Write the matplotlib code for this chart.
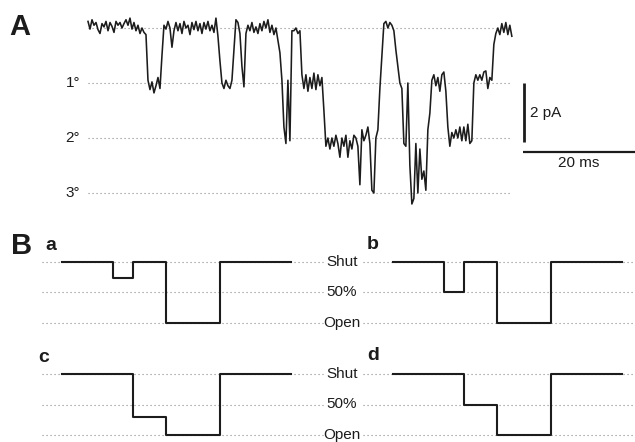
import numpy as np
import matplotlib
matplotlib.use("Agg")
import matplotlib.pyplot as plt

plt.rcParams['font.family'] = ['Liberation Sans', 'DejaVu Sans']

# ---------------- DATA ----------------
# Panel A: single-channel current trace, in units of conductance level (0 = shut)
sample_ms = 0.357
trace_levels = (
    [-0.12, 0.02, -0.15, -0.05, -0.10, 0.03, 0.10, -0.08, -0.02, -0.12,
     0.05, -0.10, -0.03, 0.08, -0.12, -0.05, -0.10, 0.00, -0.08, -0.15,
     -0.05, -0.18, 0.02, -0.10, 0.05, -0.05, 0.10, 0.00, 0.08, 0.12]
    + [0.95, 1.12, 0.98, 1.18, 1.05, 0.90, 1.10, 0.50, -0.05, 0.02, -0.12, 0.00, 0.35, 0.05]
    + [-0.10, 0.05, -0.08, 0.10, -0.12, 0.00, -0.05, 0.12, -0.10, 0.03,
       -0.12, 0.05, -0.08, 0.10, -0.10, 0.02, -0.12, 0.05, -0.05, 0.08,
       -0.18, 0.15]
    + [0.60, 1.00, 1.10, 0.95, 1.05, 1.10, 0.95, 0.40, -0.15, -0.10, 0.10, 0.70, 1.07, 0.10]
    + [-0.05, 0.05, -0.10, 0.08, -0.02, 0.10, -0.08, 0.05, -0.12, 0.00, -0.15, 0.08, -0.05, 0.12, 0.00]
    + [0.22, 0.45, 0.95, 1.80, 2.10, 0.95, 2.05, 0.05, 0.05, 0.00, 0.10, 0.05]
    + [0.85, 1.10, 0.85, 1.15, 0.90, 1.10, 0.82, 1.12, 0.85, 1.05, 0.90, 1.50, 2.15]
    + [2.00, 2.20, 2.00, 2.15, 1.95, 2.10, 2.35, 2.00, 2.15, 1.95, 2.35, 2.05, 2.20, 1.95, 2.00, 2.15]
    + [2.85, 1.85, 2.05, 1.95, 1.80, 2.10, 2.95, 3.00, 2.00, 1.85, 1.10, 0.50]
    + [-0.08, -0.12, 0.00, -0.10, -0.05, 0.05, 0.40, 0.70, 1.00, 1.10]
    + [2.10, 2.15, 1.00, 2.50, 3.20, 3.10, 2.10, 3.00, 2.20, 2.75, 2.60, 2.95, 1.85, 1.55, 0.95]
    + [0.85, 1.05, 0.90, 1.15, 0.85, 0.80, 1.15]
    + [1.80, 2.15, 1.90, 2.00, 1.85, 2.00, 1.80, 2.05, 1.80, 2.05, 1.75, 2.10, 2.05]
    + [1.00, 0.85, 0.95, 0.85, 0.95, 0.80, 0.78, 1.10, 0.90, 0.95]
    + [0.30, 0.10, 0.00, 0.12, -0.08, 0.08, -0.10, 0.12, -0.05, 0.15]
)
level_values = [0, 1, 2, 3]
level_labels = ['', '1°', '2°', '3°']
pA_per_level = 1.85
scale_pA = 2
scale_ms = 20

# Panel B: schematic step records (fraction open: 0 = shut, 1 = open)
b_levels = [0, 0.5, 1]
b_level_labels = ['Shut', '50%', 'Open']
times_ab = [0, 5.1, 7.1, 10.4, 15.8, 22.9]
rec_a = [0, 0.27, 0, 1, 0, 0]
rec_b = [0, 0.5, 0, 1, 0, 0]
times_cd = [0, 7.1, 10.4, 15.8, 22.9]
rec_c = [0, 0.7, 1, 0, 0]
rec_d = [0, 0.5, 1, 0, 0]

# ---------------- FIGURE ----------------
W, H = 635, 442
fig = plt.figure(figsize=(W / 100, H / 100), dpi=100)

def axes_px(x0, y0, x1, y1):
    ax = fig.add_axes([x0 / W, 1 - y1 / H, (x1 - x0) / W, (y1 - y0) / H])
    ax.set_axis_off()
    return ax

ink = '#1c1c1c'
dotc = '#8a8a8a'
dots = (0, (1, 2.6))
fs = 11

# Panel A
ms_px = scale_ms / 112.0
axA = axes_px(0, 0, W, 215)
axA.set_xlim(-88 * ms_px, (W - 88) * ms_px)
axA.set_ylim((215 - 28) / 55.0, -28 / 55.0)
t = np.arange(len(trace_levels)) * sample_ms
t_end = t[-1]
for lv, lab in zip(level_values, level_labels):
    axA.plot([0, t_end - 0.3], [lv, lv], color=dotc, lw=0.8, ls=dots, zorder=1)
    if lab:
        axA.text(-1.45, lv, lab, ha='right', va='center', fontsize=fs, color=ink)
axA.plot(t, trace_levels, color=ink, lw=1.15, zorder=3)

# scale bars
xb = 77.9
yb_top = 1.0
bar_levels = scale_pA / pA_per_level
axA.plot([xb, xb], [yb_top, yb_top + bar_levels], color=ink, lw=2.0, solid_capstyle='butt')
yh = 2.25
axA.plot([xb - 0.2, xb - 0.2 + scale_ms], [yh, yh], color=ink, lw=1.6, solid_capstyle='butt')
axA.text(xb + 1.0, yb_top + bar_levels / 2, f'{scale_pA} pA', ha='left', va='center',
         fontsize=fs, color=ink)
axA.text(xb - 0.2 + scale_ms / 2, yh + 0.21, f'{scale_ms} ms', ha='center', va='center',
         fontsize=fs, color=ink)

# Panel B
def row_axes(y0, y1, y_shut, y_open):
    ax = axes_px(0, y0, W, y1)
    ax.set_xlim(-6.2, 57.3)
    span = y_open - y_shut
    ax.set_ylim((y1 - y_shut) / span, (y0 - y_shut) / span)
    return ax

right_off = 33.1
label_x = 28.0
rows = [
    (row_axes(225, 337, 261.5, 323), (times_ab, rec_a), (times_ab, rec_b)),
    (row_axes(338, 442, 374, 435), (times_cd, rec_c), (times_cd, rec_d)),
]
for ax, (tl, rl), (tr, rr) in rows:
    for lv, lab in zip(b_levels, b_level_labels):
        ax.plot([-2.0, 26.1], [lv, lv], color=dotc, lw=0.8, ls=dots, zorder=1)
        ax.plot([30.1, 57.3], [lv, lv], color=dotc, lw=0.8, ls=dots, zorder=1)
        ax.text(label_x, lv, lab, ha='center', va='center', fontsize=fs, color=ink)
    ax.step(tl, rl, where='post', color=ink, lw=1.5, zorder=3)
    ax.step(np.array(tr) + right_off, rr, where='post', color=ink, lw=1.5, zorder=3)

fig.text(45 / W, 1 - 245 / H, 'a', fontsize=14, fontweight='bold', ha='left', va='center', color=ink)
fig.text(367 / W, 1 - 244 / H, 'b', fontsize=14, fontweight='bold', ha='left', va='center', color=ink)
fig.text(38 / W, 1 - 357 / H, 'c', fontsize=14, fontweight='bold', ha='left', va='center', color=ink)
fig.text(367 / W, 1 - 356 / H, 'd', fontsize=14, fontweight='bold', ha='left', va='center', color=ink)

fig.text(20 / W, 1 - 27 / H, 'A', fontsize=21, fontweight='bold', ha='center', va='center', color=ink)
fig.text(22 / W, 1 - 246 / H, 'B', fontsize=21, fontweight='bold', ha='center', va='center', color=ink)

fig.savefig('out.png', dpi=100, facecolor='white')
